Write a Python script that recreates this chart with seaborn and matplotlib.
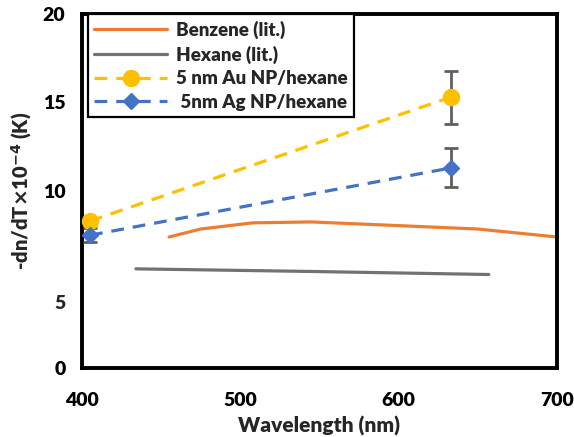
import matplotlib
matplotlib.use("Agg")
import matplotlib.pyplot as plt
import matplotlib.transforms as mtransforms
import numpy as np
import pandas as pd
import seaborn as sns

# literature curves
benzene_wl = [455, 475, 508, 545, 590, 650, 700]
benzene_dn = [7.4, 7.85, 8.2, 8.25, 8.08, 7.85, 7.4]
hexane_wl = [434, 546, 657]
hexane_dn = [5.6, 5.45, 5.28]

# measured NP/hexane points
np_wl = [405, 633]
au_dn = [8.3, 15.3]
au_err = [0.2, 1.5]
ag_dn = [7.5, 11.3]
ag_err = [0.4, 1.1]

y_ticks = [0, 5, 10, 15, 20]
x_ticks = [400, 500, 600, 700]

sns.set_theme(style="white")
plt.rcParams['font.family'] = ['Lato', 'DejaVu Sans']
plt.rcParams['font.weight'] = 'heavy'
W = 'heavy'

fig = plt.figure(figsize=(5.74, 4.37), dpi=100)
ax = fig.add_axes([0.143, 0.158, 0.827, 0.810])

c_benz, c_hex, c_au, c_ag, c_err = '#ED7D31', '#767171', '#FFC000', '#4472C4', '#5F5F5F'

benz = pd.DataFrame({'wl': benzene_wl, 'dn': benzene_dn})
hexa = pd.DataFrame({'wl': hexane_wl, 'dn': hexane_dn})
sns.lineplot(data=benz, x='wl', y='dn', color=c_benz, linewidth=2.3, ax=ax, label='Benzene (lit.)')
sns.lineplot(data=hexa, x='wl', y='dn', color=c_hex, linewidth=2.3, ax=ax, label='Hexane (lit.)')

ax.errorbar(np_wl, au_dn, yerr=au_err, fmt='none', ecolor=c_err, elinewidth=2, capsize=5, capthick=2, zorder=3)
ax.errorbar(np_wl, ag_dn, yerr=ag_err, fmt='none', ecolor=c_err, elinewidth=2, capsize=5, capthick=2, zorder=3)
ax.plot(np_wl, au_dn, color=c_au, linestyle=(0, (4, 2.8)), linewidth=2.3, marker='o', markersize=11.5,
        label='5 nm Au NP/hexane', zorder=4, clip_on=False)
ax.plot(np_wl, ag_dn, color=c_ag, linestyle=(0, (4, 2.8)), linewidth=2.3, marker='D', markersize=8.5,
        label=' 5nm Ag NP/hexane', zorder=4, clip_on=False)

ax.set_xlim(400, 700)
ax.set_ylim(0, 20)
ax.set_xticks(x_ticks)
ax.set_yticks(y_ticks)
ax.set_yticklabels(['0', '', '10', '15', '20'])
ax.tick_params(axis='both', direction='out', length=6, width=2.5, labelsize=14, colors='black', pad=6)
ax.tick_params(axis='x', pad=11)
for lab in ax.get_xticklabels() + ax.get_yticklabels():
    lab.set_fontweight(W)
# the "5" label sits below its tick in the original
trans = mtransforms.blended_transform_factory(ax.transAxes, ax.transData)
ax.text(-0.035, 3.65, '5', transform=trans, ha='right', va='center', fontsize=14, fontweight=W)

for side in ['left', 'bottom', 'right', 'top']:
    ax.spines[side].set_visible(True)
    ax.spines[side].set_color('black')
    ax.spines[side].set_linewidth(2.8)

ax.set_xlabel('Wavelength (nm)', fontsize=15, fontweight=W, labelpad=5)
ax.set_ylabel(r'-dn/dT$\times$10$^{\mathbf{-4}}$ (K)', fontsize=14.5, fontweight=W, labelpad=6)

leg = ax.legend(loc='upper left', bbox_to_anchor=(0.012, 1.0), fontsize=13.5, handlelength=3.9,
                frameon=True, fancybox=False, framealpha=1, borderpad=0.35, labelspacing=0.35,
                handletextpad=0.45, borderaxespad=0)
leg.get_frame().set_edgecolor('black')
leg.get_frame().set_linewidth(1.6)
for t in leg.get_texts():
    t.set_fontweight(W)

fig.savefig('out.png', dpi=100)
